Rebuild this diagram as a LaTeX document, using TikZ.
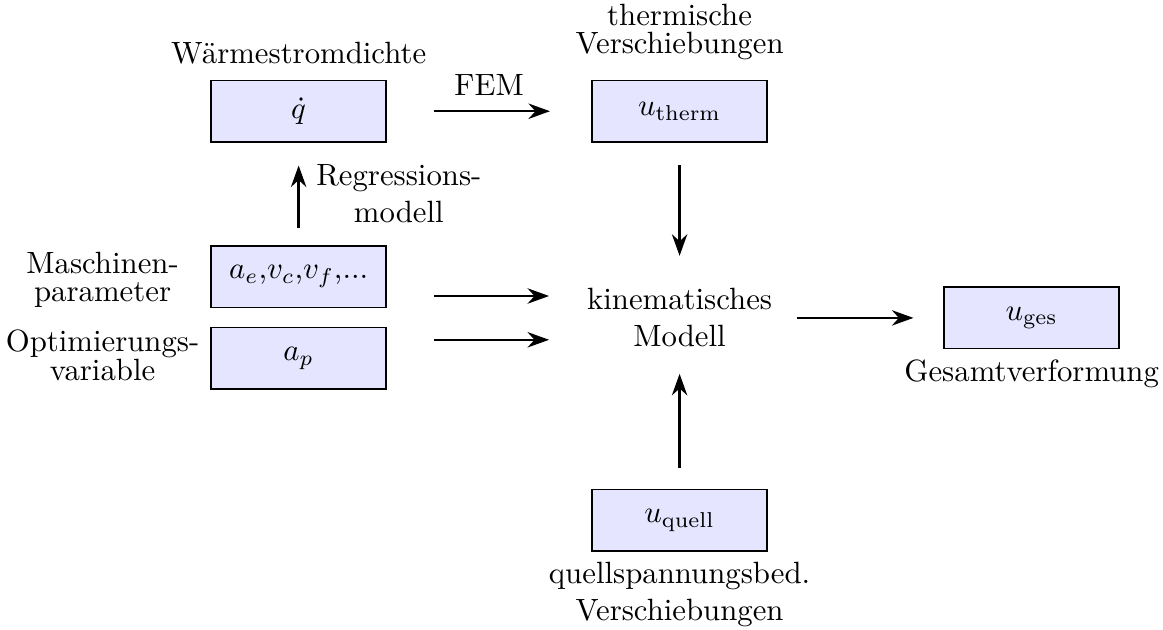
\documentclass[tikz,border=0pt]{standalone}
\usepackage{mathtools}
\usepackage{tikz}
\usetikzlibrary{positioning,arrows.meta}

\begin{document}
\begin{tikzpicture}[
  box/.style = {draw, line width = 0.55pt, fill = blue!10, shape = rectangle, minimum width = 2cm, minimum height = 0.7cm},
  flow/.style = {-{Stealth[length = 7pt, width = 5pt]}, line width = 0.8pt},
  caption/.style = {align = center}
]
\useasboundingbox (0,0) rectangle (13.28,-7.19);
\node[box] (qdot) at (3.41,-1.27) {$\dot{q}$};
\node[box] (therm) at (7.76,-1.27) {$u_{\text{therm}}$};
\node[box] (param) at (3.41,-3.16) {$a_e$,$v_c$,$v_f$,...};
\node[box] (optvar) at (3.41,-4.09) {$a_p$};
\node[caption] (kin) at (7.76,-3.63) {kinematisches\\Modell};
\node[box] (ges) at (11.78,-3.63) {$u_{\text{ges}}$};
\node[box] (quell) at (7.76,-5.94) {$u_{\text{quell}}$};

\node[caption, above = 1.5pt of qdot] (qdotlabel) {Wärmestromdichte};
\node[caption, above = 3pt of therm] (thermlabel) {thermische\\[-3pt]Verschiebungen};
\node[caption, left = 0pt of optvar, yshift = 1pt] (optvarlabel) {Optimierungs-\\[-2.6pt]variable};
\node[caption, yshift = -1pt] (paramlabel) at (optvarlabel |- param) {Maschinen-\\[-2.6pt]parameter};
\node[caption, below = 0pt of ges] (geslabel) {Gesamtverformung};
\node[caption, below = 0pt of quell] (quelllabel) {quellspannungsbed.\\Verschiebungen};

\coordinate (kinin1) at ([yshift = 0.25cm]kin.west);
\coordinate (kinin2) at ([yshift = -0.25cm]kin.west);

\draw[flow, shorten <= 0.54cm, shorten >= 0.47cm] (qdot) -- (therm) node [midway, above = 1.5pt] (femlabel) {FEM};
\draw[flow, shorten <= 0.2cm, shorten >= 0.26cm] (param) -- (qdot) node [midway, right = 2pt, caption] (regrlabel) {Regressions-\\modell};
\draw[flow, shorten <= 0.26cm, shorten >= 0.25cm] (therm) -- (kin);
\draw[flow, shorten <= 0.54cm, shorten >= 0.31cm] (param.east |- kinin1) -- (kinin1);
\draw[flow, shorten <= 0.54cm, shorten >= 0.31cm] (optvar.east |- kinin2) -- (kinin2);
\draw[flow, shorten <= 0.16cm, shorten >= 0.34cm] (kin) -- (ges);
\draw[flow, shorten <= 0.24cm, shorten >= 0.18cm] (quell) -- (kin);
\end{tikzpicture}
\end{document}
